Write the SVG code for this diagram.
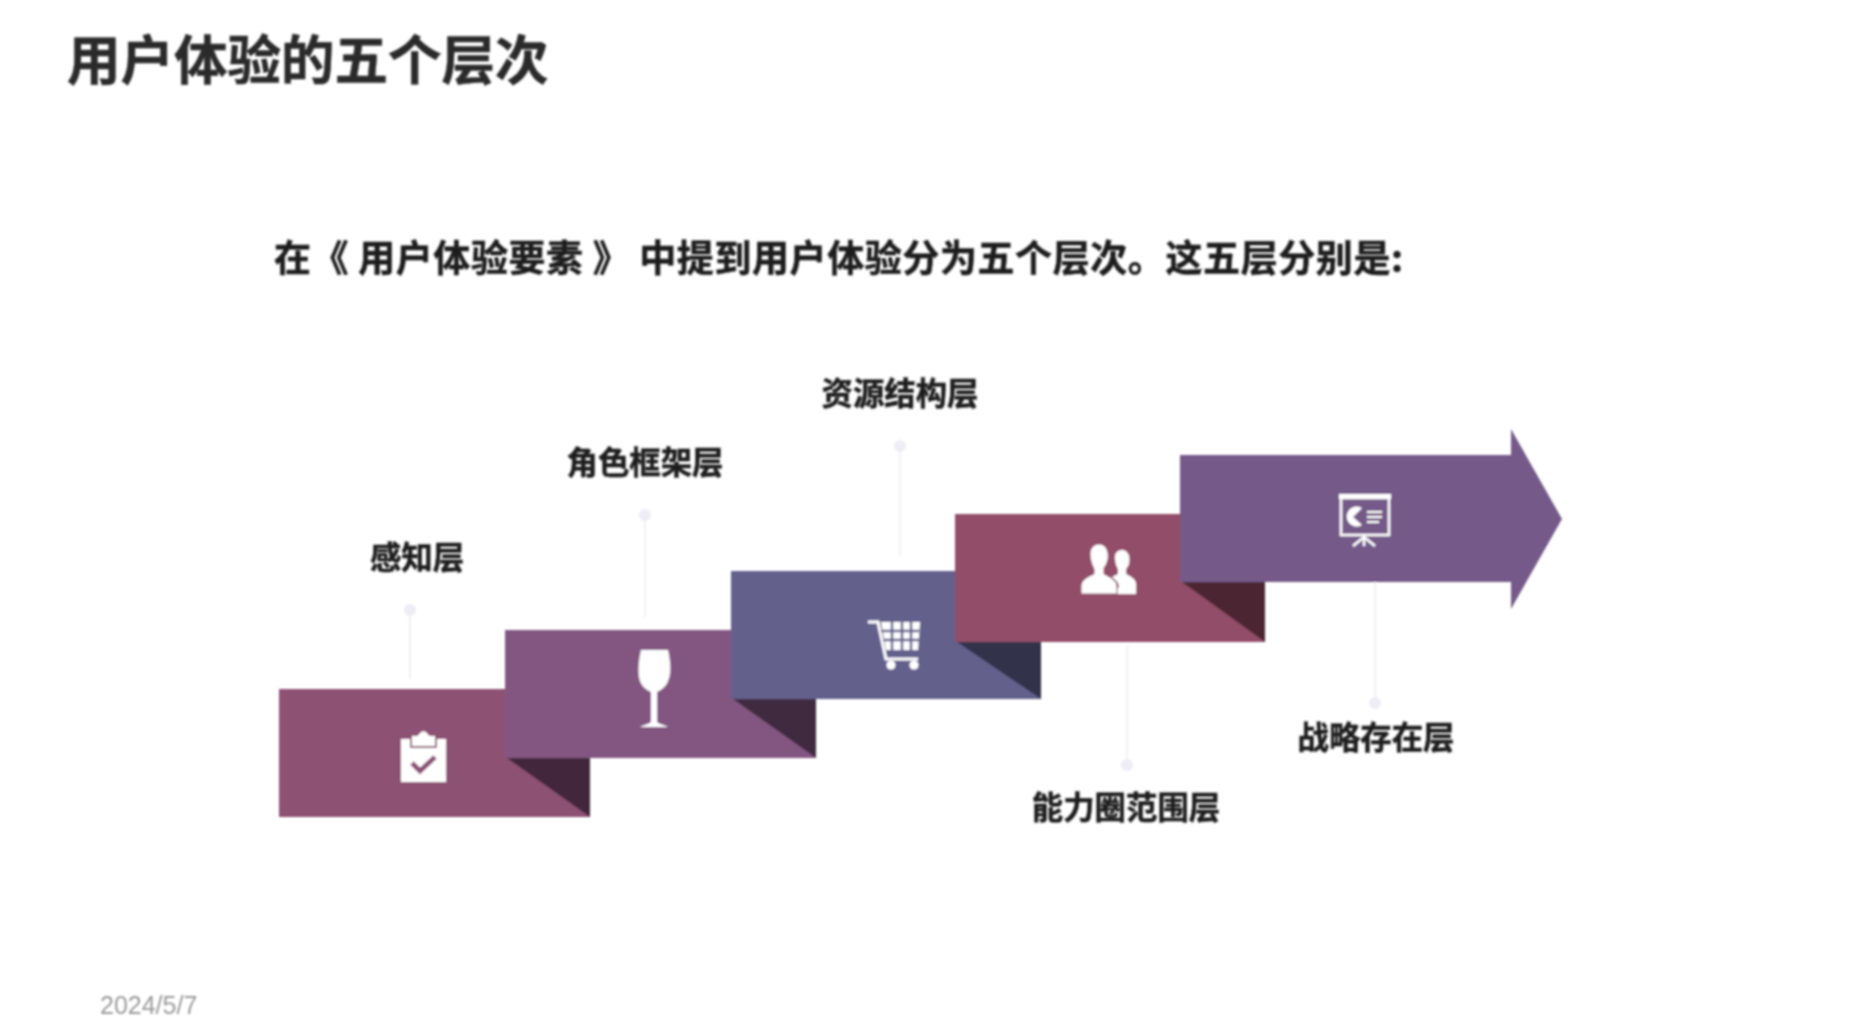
<svg xmlns="http://www.w3.org/2000/svg" width="1874" height="1016" viewBox="0 0 1874 1016">
<defs>
<style>
text{font-family:"Noto Sans CJK SC","Noto Sans",sans-serif;font-weight:700;fill:#1f1f1f;stroke:#1f1f1f;stroke-width:.5}
.lab{font-size:31.4px;text-anchor:middle}
.ln{stroke:#f1f0f8;stroke-width:2;fill:none}
.dot{fill:#eeedf6}
.ic{fill:#fff}
.ics{fill:none;stroke:#fff}
</style>
<filter id="soft" x="-5%" y="-5%" width="110%" height="110%"><feGaussianBlur stdDeviation="0.8"/></filter>
</defs>
<rect width="1874" height="1016" fill="#fff"/>
<g filter="url(#soft)">
<text id="title" x="67" y="80" font-size="53.5" style="fill:#2a2a2a;stroke:#2a2a2a">用户体验的五个层次</text>
<text id="subtitle" x="274" y="272" font-size="37" textLength="1129" lengthAdjust="spacing">在《 用户体验要素 》 中提到用户体验分为五个层次。这五层分别是:</text>
<g id="connectors">
<line class="ln" x1="410" y1="610" x2="410" y2="679"/><circle class="dot" cx="410" cy="610" r="6"/>
<line class="ln" x1="645" y1="515" x2="645" y2="617"/><circle class="dot" cx="645" cy="515" r="6"/>
<line class="ln" x1="900" y1="446" x2="900" y2="556"/><circle class="dot" cx="900" cy="446" r="6"/>
<line class="ln" x1="1127" y1="645" x2="1127" y2="765"/><circle class="dot" cx="1127" cy="765" r="6"/>
<line class="ln" x1="1375" y1="580" x2="1375" y2="703"/><circle class="dot" cx="1375" cy="703" r="6"/>
</g>
<g id="step1">
<rect x="279" y="689" width="311" height="128" fill="#8d5173"/>
<path d="M507 758H590V817Z" fill="#42263a"/>
<rect class="ic" x="401" y="739" width="45" height="43"/>
<path d="M411 735h6l2-2a5 5 0 0 1 9 0l2 2h6v12h-25Z" fill="#fff" stroke="#8d5173" stroke-width="2"/>
<path d="M412 763l8 8 15-14" fill="none" stroke="#8d5173" stroke-width="5"/>
<text class="lab" x="417" y="569">感知层</text>
</g>
<g id="step2">
<rect x="505" y="630" width="311" height="128" fill="#835781"/>
<path d="M733 699H816V758Z" fill="#402a40"/>
<path class="ic" d="M641 650h27c3 14 3 24 0 31-2 6-7 9-11 11v30c2 2 7 3 11 5h-28c4-2 9-3 11-5v-30c-4-2-9-5-11-11-2-7-2-17 1-31Z"/>
<text class="lab" x="645" y="474">角色框架层</text>
</g>
<g id="step3">
<rect x="731" y="571" width="310" height="128" fill="#64608c"/>
<path d="M957 642H1041V699Z" fill="#33304c"/>
<path class="ics" stroke-width="3" d="M868 622h10l8 37h32"/>
<path class="ic" d="M881 622h39l-2 28h-32Z"/>
<path d="M881 631h38M883 640h36M892 622v28M902 622v28M911 622v28" stroke="#64608c" stroke-width="2.5" fill="none"/>
<circle class="ic" cx="891" cy="665" r="4.5"/><circle class="ic" cx="914" cy="665" r="4.5"/>
<text class="lab" x="900" y="405">资源结构层</text>
</g>
<g id="step4">
<rect x="955" y="514" width="310" height="128" fill="#924e68"/>
<path d="M1182 582H1265V642Z" fill="#4b2532"/>
<path class="ic" d="M1111 594h25v-10c0-5-6-8-10-10v-5c3-3 4-8 3-13-1-4-4-6-7-6-4 0-7 3-7 7 0 5 1 9 3 12v5c-2 1-4 2-6 3 4 3 7 6 7 10Z"/>
<path class="ic" d="M1081 594h36v-8c0-6-9-10-13-12v-6c3-4 5-9 4-15-1-6-5-9-9-9-5 0-9 4-9 10 0 6 2 11 4 15v5c-5 2-13 6-13 12Z" stroke="#924e68" stroke-width="1"/>
<text class="lab" x="1126" y="819">能力圈范围层</text>
</g>
<g id="step5">
<path d="M1180 455H1511V429L1562 519L1511 609V582H1180Z" fill="#755a89"/>
<rect class="ic" x="1339" y="494" width="52" height="5"/>
<rect x="1341" y="498" width="48" height="37" fill="none" stroke="#fff" stroke-width="2.5"/>
<path class="ic" d="M1362 508a10 10 0 1 0 0 17l-9-8Z"/>
<path d="M1367 512h15M1367 517h15M1367 522h12" stroke="#fff" stroke-width="2" fill="none"/>
<path d="M1364 535v11M1364 537l-11 9M1364 537l11 9" stroke="#fff" stroke-width="2.5" fill="none"/>
<text class="lab" x="1376" y="749">战略存在层</text>
</g>
<text id="date" x="100" y="1014" font-size="25" style="font-family:'Liberation Sans',sans-serif;font-weight:400;fill:#9a9a9a;stroke:none">2024/5/7</text>
</g>
</svg>
